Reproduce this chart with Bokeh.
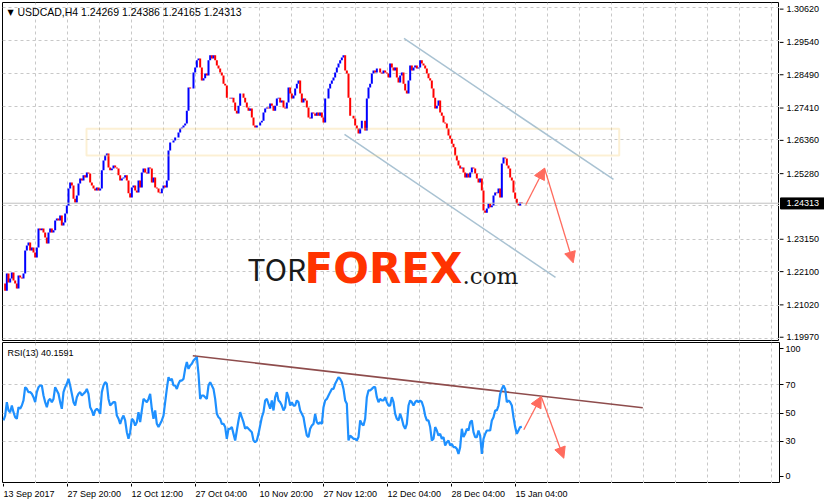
from bokeh.plotting import figure
from bokeh.layouts import column, row
from bokeh.models import (Range1d, FixedTicker, Span, BoxAnnotation,
                          Arrow, NormalHead, ColumnDataSource, Grid)
from bokeh.embed import file_html
from bokeh.resources import INLINE
from bokeh.core.properties import value

# ---------------- data ----------------
symbol_title = "USDCAD,H4  1.24269 1.24386 1.24165 1.24313"
rsi_title = "RSI(13) 40.1591"
last_price = 1.24313

close = [
    1.2173, 1.2150, 1.2205, 1.2176, 1.2189, 1.2208, 1.2183, 1.2173, 1.2157, 1.2199,
    1.2192, 1.2189, 1.2205, 1.2279, 1.2295, 1.2305, 1.2279, 1.2289, 1.2273, 1.2257,
    1.2289, 1.2350, 1.2344, 1.2350, 1.2337, 1.2321, 1.2302, 1.2337, 1.2350, 1.2337,
    1.2344, 1.2376, 1.2382, 1.2376, 1.2392, 1.2360, 1.2369, 1.2398, 1.2424, 1.2479,
    1.2498, 1.2488, 1.2446, 1.2434, 1.2456, 1.2495, 1.2511, 1.2504, 1.2521, 1.2514,
    1.2530, 1.2527, 1.2498, 1.2488, 1.2479, 1.2472, 1.2482, 1.2472, 1.2479, 1.2537,
    1.2569, 1.2585, 1.2591, 1.2546, 1.2537, 1.2543, 1.2553, 1.2546, 1.2543, 1.2521,
    1.2504, 1.2511, 1.2514, 1.2521, 1.2504, 1.2463,
    1.2450, 1.2482, 1.2488, 1.2472, 1.2466, 1.2504, 1.2482, 1.2530, 1.2543, 1.2530,
    1.2527, 1.2546, 1.2543, 1.2498, 1.2514, 1.2482, 1.2479, 1.2466, 1.2463, 1.2479,
    1.2488, 1.2482, 1.2504, 1.2601, 1.2627, 1.2627, 1.2633, 1.2643, 1.2643, 1.2659,
    1.2672, 1.2675, 1.2681, 1.2688, 1.2729, 1.2804, 1.2800, 1.2800, 1.2852, 1.2868,
    1.2891, 1.2897, 1.2868, 1.2826, 1.2833, 1.2849, 1.2842, 1.2891, 1.2907, 1.2897,
    1.2907, 1.2891, 1.2874, 1.2865, 1.2852, 1.2842, 1.2816, 1.2810, 1.2771, 1.2771,
    1.2768, 1.2771, 1.2755, 1.2729, 1.2720, 1.2745, 1.2784, 1.2784, 1.2771, 1.2755,
    1.2739, 1.2729, 1.2736, 1.2707, 1.2681, 1.2675, 1.2681, 1.2681,
    1.2691, 1.2697, 1.2723, 1.2736, 1.2739, 1.2736, 1.2752, 1.2745, 1.2729, 1.2745,
    1.2768, 1.2771, 1.2755, 1.2762, 1.2739, 1.2736, 1.2755, 1.2804, 1.2784, 1.2768,
    1.2778, 1.2800, 1.2816, 1.2826, 1.2784, 1.2755, 1.2768, 1.2762, 1.2739, 1.2707,
    1.2704, 1.2723, 1.2720, 1.2713, 1.2723, 1.2713, 1.2723, 1.2707, 1.2691, 1.2768,
    1.2768, 1.2800, 1.2816, 1.2826, 1.2836, 1.2852, 1.2868, 1.2881, 1.2891, 1.2900,
    1.2907, 1.2858, 1.2849, 1.2771, 1.2713, 1.2713, 1.2704, 1.2681, 1.2672, 1.2656,
    1.2672, 1.2697, 1.2697, 1.2665, 1.2768, 1.2804, 1.2816, 1.2849, 1.2858, 1.2852,
    1.2865, 1.2865, 1.2852, 1.2849, 1.2858, 1.2852, 1.2849, 1.2836,
    1.2881, 1.2868, 1.2858, 1.2868, 1.2836, 1.2820, 1.2842, 1.2852, 1.2816, 1.2794,
    1.2784, 1.2826, 1.2874, 1.2858, 1.2868, 1.2874, 1.2865, 1.2868, 1.2891, 1.2881,
    1.2874, 1.2865, 1.2849, 1.2833, 1.2826, 1.2800, 1.2771, 1.2736, 1.2745, 1.2762,
    1.2723, 1.2713, 1.2691, 1.2688, 1.2672, 1.2649, 1.2639, 1.2623, 1.2611, 1.2585,
    1.2569, 1.2553, 1.2543, 1.2546, 1.2530, 1.2514, 1.2527, 1.2514, 1.2530, 1.2546,
    1.2543, 1.2527, 1.2511, 1.2498, 1.2511, 1.2472, 1.2408, 1.2401, 1.2414, 1.2430,
    1.2418, 1.2424, 1.2456, 1.2466, 1.2463, 1.2479, 1.2450, 1.2559, 1.2578, 1.2575,
    1.2553, 1.2543, 1.2514, 1.2504, 1.2466, 1.2446, 1.2430, 1.2424, 1.2434, 1.24313,
]

rsi = [
    44.7, 48.2, 57.7, 51.8, 50.6, 55.3, 50.6, 47.0, 45.9, 54.1,
    53.0, 55.3, 58.9, 68.3, 67.1, 64.8, 64.8, 63.6, 61.2, 57.7,
    64.8, 68.3, 69.5, 69.5, 62.4, 57.7, 54.1, 58.9, 60.0, 57.7,
    60.0, 68.3, 66.0, 63.6, 57.7, 53.0, 64.8, 68.3, 70.7, 74.2,
    69.5, 63.6, 57.7, 55.3, 61.2, 63.6, 64.8, 62.4, 63.6, 64.8,
    67.1, 63.6, 54.1, 51.8, 48.2, 51.8, 53.0, 51.8, 49.4, 64.8,
    69.5, 71.9, 70.7, 60.0, 55.3, 56.5, 57.7, 57.7, 48.2, 45.9,
    42.3, 45.9, 48.2, 44.7, 36.4, 31.7, 36.4, 45.9, 44.7, 41.1,
    43.5, 50.6, 43.5, 51.8, 60.0, 58.9, 57.7, 60.0, 63.6, 53.0,
    45.9, 51.8, 42.3, 40.0, 42.3, 44.7, 48.2, 57.7, 67.1, 75.4,
    73.0, 74.2, 69.5, 69.5, 67.1, 70.7, 73.0, 73.0, 74.2, 81.3,
    86.1, 81.3, 83.7, 84.9, 87.2, 88.4, 89.6, 77.8, 60.0, 62.4,
    62.4, 61.2, 60.0, 69.5, 71.9, 69.5, 67.1, 60.0, 49.4, 47.0,
    45.9, 42.3, 42.3, 40.0, 31.7, 38.8, 38.8, 40.0, 35.2, 30.5,
    37.6, 44.7, 50.6, 47.0, 43.5, 38.8, 40.0, 38.8, 37.6, 36.4,
    30.5, 29.3, 30.5, 35.2, 41.1, 47.0, 50.6, 58.9, 60.0, 56.5,
    53.0, 58.9, 51.8, 61.2, 64.8, 58.9,
    57.7, 55.3, 51.8, 54.1, 64.8, 61.2, 55.3, 57.7, 55.3, 55.3,
    58.9, 57.7, 51.8, 49.4, 47.0, 40.0, 34.0, 32.9, 38.8, 41.1,
    42.3, 49.4, 43.5, 42.3, 43.5, 42.3, 54.1, 58.9, 60.0, 62.4,
    64.8, 67.1, 67.1, 70.7, 73.0, 75.4, 74.2, 71.9, 67.1, 58.9,
    56.5, 30.5, 34.0, 32.9, 31.7, 31.7, 30.5, 32.9, 44.7, 42.3,
    41.1, 45.9, 61.2, 66.0, 66.0, 67.1, 68.3, 68.3, 61.2, 57.7,
    60.0, 58.9, 58.9, 61.2, 57.7, 55.3, 55.3, 61.2, 57.7, 49.4,
    45.9, 44.7, 49.4, 45.9, 41.1, 38.8, 42.3, 55.3, 58.9, 57.7,
    55.3, 57.7, 58.9, 57.7, 58.9, 57.7, 54.1, 48.2, 44.7, 44.7,
    40.0, 30.5, 31.7, 40.0, 37.6, 34.0, 35.2, 31.7, 32.9, 27.0,
    29.3, 30.5, 27.0, 28.1, 25.8, 25.8, 24.6, 21.0, 25.8, 38.8,
    32.9, 35.2, 38.8, 37.6, 43.5, 44.7, 36.4, 32.9, 32.9, 37.6,
    34.0, 21.0, 31.7, 35.2, 37.6, 37.6, 37.6, 44.7, 47.0, 51.8,
    51.8, 55.3, 63.6, 67.1, 69.5, 67.1, 57.7, 58.9, 57.7, 55.3,
    47.0, 40.0, 35.2, 37.6, 40.0, 40.16,
]

time_labels = ["13 Sep 2017", "27 Sep 20:00", "12 Oct 12:00", "27 Oct 04:00",
               "10 Nov 20:00", "27 Nov 12:00", "12 Dec 04:00", "28 Dec 04:00",
               "15 Jan 04:00"]
time_label_bars = [0, 64, 128, 192, 256, 320, 384, 448, 512]
grid_bars = list(range(32, 776, 32))

price_tick_labels = ["1.19970", "1.21020", "1.22100", "1.23150", "1.24230",
                     "1.25280", "1.26360", "1.27410", "1.28490", "1.29540", "1.30620"]
hidden_price_label = "1.24230"
rsi_levels = [30, 50, 70]
rsi_scale_labels = ["0", "30", "50", "70", "100"]

# analyst drawings (bar index, price / rsi)
zone = dict(left=83, right=615.7, bottom=1.25849, top=1.26708)
channel_upper = ([400.5, 610.0], [1.29613, 1.25077])
channel_lower = ([341.0, 552.0], [1.26525, 1.21924])
price_arrow_up = (522.3, 1.24263, 541.0, 1.25440)
price_arrow_down = (541.0, 1.25440, 569.7, 1.22396)
rsi_trend = ([189.3, 639.3], [90.6, 53.7])
rsi_arrow_up = (520.3, 38.1, 537.7, 61.7)
rsi_arrow_down = (537.7, 61.7, 560.3, 17.9)
logo_parts = ["TOR", "FOREX", ".com"]
logo_x = [244, 301, 459]
logo_y = [1.22213, 1.22213, 1.21983]

BARS_PER_POINT = 5.0 / 3.0

# ---------------- derived ----------------
x = [i * BARS_PER_POINT for i in range(len(close))]
opens = [close[0]] + close[:-1]
colors = ["#0000ff" if c >= o else "#ff0000" for o, c in zip(opens, close)]
src = ColumnDataSource(dict(x=x, o=opens, c=close, color=colors))

FONT = value("Liberation Sans")
FS = "9px"
GRID = "#c8c8c8"
ARROW = "#ff6b5e"

LEFT = 2
FRAME_W = 777
RIGHT = 45
TOTAL_W = LEFT + FRAME_W + RIGHT      # 824
PRICE_H = 341                          # frame 338 (+2 top, +1 bottom)
PRICE_FRAME_H = 338
RSI_H = 142                            # frame 141 (+1 top)
TIME_H = 21

x_range = Range1d(-1, 776)
price_range = Range1d(1.19896, 1.30771)
units_per_px = (price_range.end - price_range.start) / PRICE_FRAME_H


def style_grids(fig, x_ticks, y_ticks):
    for g in fig.grid:
        g.visible = False
    fig.add_layout(Grid(dimension=0, ticker=FixedTicker(ticks=x_ticks),
                        grid_line_color=GRID, grid_line_dash="3 3"))
    fig.add_layout(Grid(dimension=1, ticker=FixedTicker(ticks=y_ticks),
                        grid_line_color=GRID, grid_line_dash="3 3"))


def bare(fig):
    fig.outline_line_color = None
    fig.background_fill_color = "white"
    fig.border_fill_color = "white"
    for g in fig.grid:
        g.visible = False


# ---------------- price panel ----------------
p = figure(width=LEFT + FRAME_W, height=PRICE_H, x_range=x_range, y_range=price_range,
           output_backend="svg", toolbar_location=None,
           x_axis_location=None, y_axis_location=None,
           min_border_left=LEFT, min_border_right=0,
           min_border_top=2, min_border_bottom=1)
p.background_fill_color = "white"
p.border_fill_color = "white"
p.outline_line_color = "black"
p.outline_line_width = 1

price_ticks = [float(s) for s in price_tick_labels]
style_grids(p, grid_bars, price_ticks)

p.add_layout(BoxAnnotation(left=zone["left"], right=zone["right"],
                           bottom=zone["bottom"], top=zone["top"],
                           fill_color=None, line_color="#f6cd72", line_width=2))
p.add_layout(Span(location=last_price, dimension="width",
                  line_color="#c0c0c0", line_width=1))

p.line(channel_upper[0], channel_upper[1], line_color="#a9c2d2", line_width=1.5)
p.line(channel_lower[0], channel_lower[1], line_color="#a9c2d2", line_width=1.5)

p.segment(x0="x", y0="o", x1="x", y1="c", color="color", line_width=2, source=src)

# watermark logo
p.text(x=[logo_x[0]], y=[logo_y[0]], text=[logo_parts[0]],
       text_font=value("Noto Sans CJK JP"), text_font_size="30px",
       text_color="#1a1a1a", text_baseline="middle")
p.text(x=[logo_x[1]], y=[logo_y[1]], text=[logo_parts[1]],
       text_font=value("DejaVu Sans"), text_font_style="bold", text_font_size="42px",
       text_color="#ff3300", text_baseline="middle")
p.text(x=[logo_x[2]], y=[logo_y[2]], text=[logo_parts[2]],
       text_font=value("DejaVu Serif"), text_font_size="23px",
       text_color="#1a1a1a", text_baseline="middle")

for (xs, ys, xe, ye) in (price_arrow_up, price_arrow_down):
    p.add_layout(Arrow(x_start=xs, y_start=ys, x_end=xe, y_end=ye,
                       line_color=ARROW, line_width=1.3,
                       end=NormalHead(size=11, fill_color=ARROW, line_color=ARROW)))

# header text, anchored to the top-left corner of the frame
p.text(x=[x_range.start], y=[price_range.end], text=["\u25bc"],
       text_font=value("DejaVu Sans"), text_font_size="8px", text_color="black",
       text_baseline="top", x_offset=5, y_offset=5)
p.text(x=[x_range.start], y=[price_range.end], text=[symbol_title],
       text_font=FONT, text_font_size="10.5px", text_color="black",
       text_baseline="top", x_offset=15, y_offset=3)

# ---------------- price scale (right strip, same y scale) ----------------
ps_range = Range1d(price_range.start - units_per_px * 1, price_range.end + units_per_px * 2)
ps = figure(width=RIGHT, height=PRICE_H, x_range=Range1d(0, RIGHT), y_range=ps_range,
            output_backend="svg", toolbar_location=None,
            x_axis_location=None, y_axis_location=None,
            min_border_left=0, min_border_right=0,
            min_border_top=0, min_border_bottom=0)
bare(ps)
shown = [(t, s) for t, s in zip(price_ticks, price_tick_labels) if s != hidden_price_label]
ps.segment(x0=[0] * len(shown), x1=[4] * len(shown),
           y0=[t for t, _ in shown], y1=[t for t, _ in shown], line_color="black")
ps.text(x=[7] * len(shown), y=[t for t, _ in shown], text=[s for _, s in shown],
        text_font=FONT, text_font_size=FS, text_baseline="middle",
        text_color="black")
ps.rect(x=[23], y=[last_price], width=44, height=11,
        width_units="screen", height_units="screen",
        fill_color="black", line_color="black")
ps.text(x=[7], y=[last_price], text=[f"{last_price:.5f}"],
        text_font=FONT, text_font_size=FS, text_baseline="middle",
        text_color="white")

# ---------------- RSI panel ----------------
r = figure(width=TOTAL_W, height=RSI_H, x_range=x_range, y_range=Range1d(0, 100),
           output_backend="svg", toolbar_location=None,
           x_axis_location=None, y_axis_location="right",
           min_border_left=LEFT, min_border_right=RIGHT,
           min_border_top=1, min_border_bottom=0)
r.background_fill_color = "white"
r.border_fill_color = "white"
r.outline_line_color = "black"
r.outline_line_width = 1

rax = r.yaxis[0]
rsi_ticks = [5, 30, 50, 70, 95.5]
rax.ticker = FixedTicker(ticks=rsi_ticks)
rax.major_label_overrides = {t_: s_ for t_, s_ in zip(rsi_ticks, rsi_scale_labels)}
rax.minor_tick_line_color = None
rax.major_tick_out = 4
rax.major_tick_in = 0
rax.major_label_standoff = 2
rax.axis_line_color = None
rax.major_label_text_font = "Liberation Sans"
rax.major_label_text_font_size = FS
rax.major_label_text_color = "black"
style_grids(r, grid_bars, rsi_levels)

r.line(rsi_trend[0], rsi_trend[1], line_color="#8e4c4c", line_width=1.6)
r.line(x, rsi, line_color="#1e90ff", line_width=2.2)

for (xs, ys, xe, ye) in (rsi_arrow_up, rsi_arrow_down):
    r.add_layout(Arrow(x_start=xs, y_start=ys, x_end=xe, y_end=ye,
                       line_color=ARROW, line_width=1.3,
                       end=NormalHead(size=11, fill_color=ARROW, line_color=ARROW)))

r.text(x=[x_range.start], y=[100], text=[rsi_title],
       text_font=FONT, text_font_size=FS, text_color="black",
       text_baseline="top", x_offset=5, y_offset=5)

# ---------------- time scale strip (same x scale) ----------------
t = figure(width=TOTAL_W, height=TIME_H, x_range=x_range, y_range=Range1d(0, TIME_H),
           output_backend="svg", toolbar_location=None,
           x_axis_location=None, y_axis_location=None,
           min_border_left=LEFT, min_border_right=RIGHT,
           min_border_top=0, min_border_bottom=0)
bare(t)
t.segment(x0=time_label_bars, x1=time_label_bars,
          y0=[TIME_H] * len(time_label_bars), y1=[TIME_H - 3] * len(time_label_bars),
          line_color="black")
t.text(x=time_label_bars, y=[TIME_H - 10.5] * len(time_label_bars), text=time_labels,
       text_font=FONT, text_font_size=FS, text_align="left",
       text_baseline="middle", text_color="black")

layout = column(row(p, ps, spacing=0), r, t, spacing=0)
open("out.html", "w").write(file_html(layout, INLINE))
